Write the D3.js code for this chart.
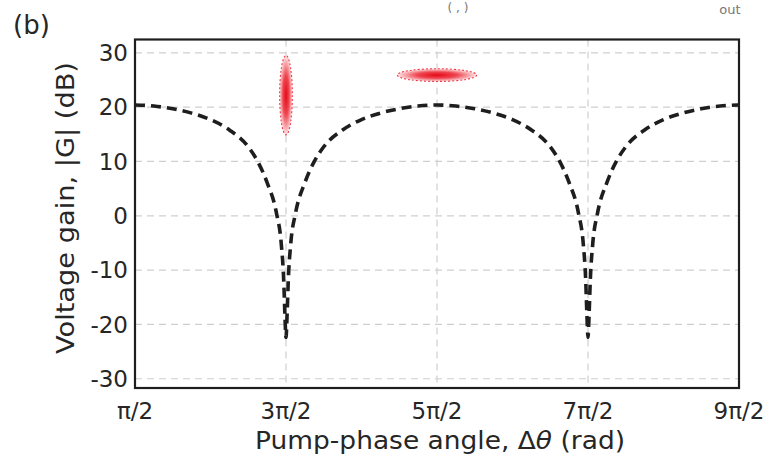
<!DOCTYPE html>
<html><head><meta charset="utf-8">
<script src="https://cdn.jsdelivr.net/npm/d3@7"></script>
<style>
body{margin:0;background:#fff;}
svg{display:block;}
text{font-family:"DejaVu Sans",sans-serif;}
</style></head>
<body>
<svg id="c" width="764" height="456"></svg>
<script>
// Data (x in units of π, gain in dB)
const phaseTicks = [0.5, 1.5, 2.5, 3.5, 4.5];
const phaseTickLabels = ["π/2", "3π/2", "5π/2", "7π/2", "9π/2"];
const gainTicks = [30, 20, 10, 0, -10, -20, -30];
const phase = [0.5, 0.625, 0.75, 0.875, 1.0, 1.125, 1.25, 1.3125, 1.375, 1.4375, 1.46875, 1.485, 1.4925, 1.5,
  1.5075, 1.515, 1.53125, 1.5625, 1.625, 1.6875, 1.75, 1.875, 2.0, 2.125, 2.25, 2.375, 2.5,
  2.625, 2.75, 2.875, 3.0, 3.125, 3.25, 3.3125, 3.375, 3.4375, 3.46875, 3.485, 3.4925, 3.5,
  3.5075, 3.515, 3.53125, 3.5625, 3.625, 3.6875, 3.75, 3.875, 4.0, 4.125, 4.25, 4.375, 4.5];
const gain = [20.4, 20.2, 19.7, 18.9, 17.7, 15.8, 12.7, 10.0, 6.1, 0.4, -5.2, -12, -18, -22.4,
  -18, -12, -5.2, 0.4, 6.1, 10.0, 12.7, 15.8, 17.7, 18.9, 19.7, 20.2, 20.4,
  20.2, 19.7, 18.9, 17.7, 15.8, 12.7, 10.0, 6.1, 0.4, -5.2, -12, -18, -22.4,
  -18, -12, -5.2, 0.4, 6.1, 10.0, 12.7, 15.8, 17.7, 18.9, 19.7, 20.2, 20.4];
// State markers: [center phase, center gain, half-width (π units), half-height (dB)]
const blobs = [
  {x: 1.5, y: 22.2, rx: 0.042, ry: 7.3},
  {x: 2.5, y: 25.9, rx: 0.263, ry: 1.17}
];

const svg = d3.select("#c");
const L = 135, R = 739, T = 39.5, B = 388;
const x = d3.scaleLinear().domain([0.5, 4.5]).range([L, R]);
const y = d3.scaleLinear().domain([-31.7, 32.45]).range([B, T]);
const ink = "#262626";

// grid
const g = svg.append("g");
g.selectAll(".hg").data(gainTicks).enter().append("line")
  .attr("x1", L).attr("x2", R).attr("y1", d => y(d)).attr("y2", d => y(d))
  .attr("stroke", "#cfcfcf").attr("stroke-width", 1.2).attr("stroke-dasharray", "7,5");
g.selectAll(".vg").data(phaseTicks.slice(1, -1)).enter().append("line")
  .attr("y1", T).attr("y2", B).attr("x1", d => x(d)).attr("x2", d => x(d))
  .attr("stroke", "#cfcfcf").attr("stroke-width", 1.2).attr("stroke-dasharray", "7,5");

// markers with radial gradient
const defs = svg.append("defs");
const grad = defs.append("radialGradient").attr("id", "rg");
grad.append("stop").attr("offset", "0%").attr("stop-color", "#e60a18");
grad.append("stop").attr("offset", "50%").attr("stop-color", "#ee4752");
grad.append("stop").attr("offset", "100%").attr("stop-color", "#fde2e4");
svg.selectAll(".blob").data(blobs).enter().append("ellipse")
  .attr("cx", d => x(d.x)).attr("cy", d => y(d.y))
  .attr("rx", d => x(d.x + d.rx) - x(d.x))
  .attr("ry", d => y(d.y - d.ry) - y(d.y))
  .attr("fill", "url(#rg)")
  .attr("stroke", "#ee3a44").attr("stroke-width", 1.1).attr("stroke-dasharray", "2,2");

// curve
const pts = phase.map((p, i) => [p, gain[i]]);
svg.append("path").datum(pts)
  .attr("d", d3.line().x(d => x(d[0])).y(d => y(d[1])).curve(d3.curveMonotoneX))
  .attr("fill", "none").attr("stroke", "#1e1e1e").attr("stroke-width", 3.6)
  .attr("stroke-dasharray", "10,6");

// frame
svg.append("rect").attr("x", L).attr("y", T).attr("width", R - L).attr("height", B - T)
  .attr("fill", "none").attr("stroke", "#1e1e1e").attr("stroke-width", 2.2);

// axis labels
svg.selectAll(".yt").data(gainTicks).enter().append("text")
  .attr("x", 128).attr("y", d => y(d)).attr("dy", "0.36em")
  .attr("text-anchor", "end").attr("font-size", 23).attr("fill", ink)
  .text(d => d);
svg.selectAll(".xt").data(phaseTicks).enter().append("text")
  .attr("x", d => x(d)).attr("y", 419)
  .attr("text-anchor", "middle").attr("font-size", 23).attr("fill", ink)
  .text((d, i) => phaseTickLabels[i]);
svg.append("text").attr("x", 440).attr("y", 449).attr("text-anchor", "middle")
  .attr("font-size", 25).attr("fill", ink)
  .attr("textLength", 370).attr("lengthAdjust", "spacingAndGlyphs")
  .html('Pump-phase angle, Δ<tspan font-style="italic">θ</tspan> (rad)');
svg.append("text").attr("transform", "translate(74,208) rotate(-90)")
  .attr("text-anchor", "middle").attr("font-size", 25).attr("fill", ink)
  .attr("textLength", 292).attr("lengthAdjust", "spacingAndGlyphs")
  .text("Voltage gain, |G| (dB)");
svg.append("text").attr("x", 13).attr("y", 34).attr("font-size", 26).attr("fill", ink).text("(b)");
// small text fragments at top edge
svg.append("text").attr("x", 458).attr("y", 12).attr("text-anchor", "middle").attr("font-size", 12).attr("fill", "#777").text("(  ,  )");
svg.append("text").attr("x", 730).attr("y", 14).attr("text-anchor", "middle").attr("font-size", 13).attr("fill", "#777").text("out");
</script>
</body></html>
